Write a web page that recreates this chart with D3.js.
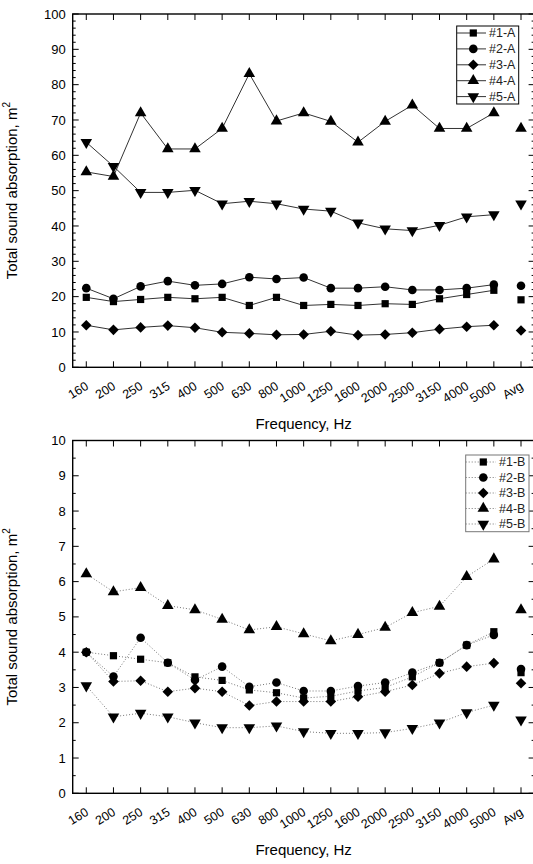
<!DOCTYPE html>
<html>
<head>
<meta charset="utf-8">
<script src="https://cdn.jsdelivr.net/npm/d3@7"></script>
<style>
  body { margin: 0; background: #fff; }
  svg { display: block; font-family: "Liberation Sans", Arial, sans-serif; }
</style>
</head>
<body>
<svg id="chart" width="533" height="864"></svg>
<script>
// frequency bands, last one is the average (not joined to the line)
const categories = ['160', '200', '250', '315', '400', '500', '630', '800', '1000',
  '1250', '1600', '2000', '2500', '3150', '4000', '5000', 'Avg'];

// configuration A, total sound absorption in m2
const seriesA1 = [19.8, 18.6, 19.2, 19.8, 19.4, 19.8, 17.5, 19.8, 17.5, 17.8, 17.5, 18.0, 17.8, 19.4, 20.6, 21.8, 19.1];
const seriesA2 = [22.4, 19.4, 22.9, 24.4, 23.2, 23.6, 25.5, 25.0, 25.4, 22.4, 22.4, 22.8, 21.9, 21.9, 22.4, 23.4, 23.1];
const seriesA3 = [11.9, 10.6, 11.3, 11.8, 11.2, 9.9, 9.6, 9.2, 9.3, 10.2, 9.1, 9.3, 9.8, 10.8, 11.5, 11.9, 10.4];
const seriesA4 = [55.3, 54.0, 72.0, 61.8, 61.8, 67.6, 83.1, 69.7, 72.0, 69.6, 63.7, 69.6, 74.2, 67.6, 67.6, 72.0, 67.6];
const seriesA5 = [63.7, 56.9, 49.5, 49.5, 50.1, 46.3, 47.0, 46.3, 44.8, 44.2, 40.9, 39.2, 38.7, 40.2, 42.6, 43.2, 46.3];

// configuration B
const seriesB1 = [4.0, 3.9, 3.8, 3.7, 3.3, 3.2, 2.93, 2.85, 2.7, 2.75, 2.9, 3.0, 3.3, 3.7, 4.2, 4.58, 3.42];
const seriesB2 = [4.0, 3.31, 4.41, 3.7, 3.21, 3.59, 3.02, 3.14, 2.9, 2.9, 3.04, 3.14, 3.42, 3.7, 4.2, 4.49, 3.52];
const seriesB3 = [4.0, 3.17, 3.19, 2.88, 2.98, 2.88, 2.49, 2.6, 2.6, 2.6, 2.74, 2.88, 3.07, 3.4, 3.59, 3.69, 3.12];
const seriesB4 = [6.22, 5.71, 5.83, 5.32, 5.2, 4.93, 4.63, 4.72, 4.52, 4.32, 4.5, 4.7, 5.12, 5.3, 6.14, 6.64, 5.2];
const seriesB5 = [3.05, 2.17, 2.27, 2.17, 2.0, 1.86, 1.86, 1.91, 1.75, 1.7, 1.7, 1.72, 1.84, 2.0, 2.29, 2.5, 2.08];

const namesA = ['#1-A', '#2-A', '#3-A', '#4-A', '#5-A'];
const namesB = ['#1-B', '#2-B', '#3-B', '#4-B', '#5-B'];
const markers = ['square', 'circle', 'diamond', 'up', 'down'];

const yTicksA = [0, 10, 20, 30, 40, 50, 60, 70, 80, 90, 100];
const yTicksB = [0, 1, 2, 3, 4, 5, 6, 7, 8, 9, 10];

const svg = d3.select('#chart');
const left = 72.7;
const right = 534.6;

const x = d3.scalePoint()
  .domain(categories)
  .range([left, right])
  .padding(0.5);

const symbolPath = (kind) => {
  if (kind === 'square') return d3.symbol(d3.symbolSquare, 52)();
  if (kind === 'circle') return d3.symbol(d3.symbolCircle, 58)();
  if (kind === 'diamond') return d3.symbol(d3.symbolSquare, 56)();
  return d3.symbol(d3.symbolTriangle, 58)();
};
const symbolRotate = (kind) => {
  if (kind === 'diamond') return 45;
  if (kind === 'down') return 180;
  return 0;
};

function drawPanel(opts) {
  const g = svg.append('g');
  const y = d3.scaleLinear().domain(opts.domain).range([opts.bottom, opts.top]);

  // series lines (first 16 bands only) and markers
  opts.series.forEach((vals, i) => {
    const pts = vals.slice(0, categories.length - 1).map((v, j) => [x(categories[j]), y(v)]);
    g.append('path')
      .attr('d', d3.line()(pts))
      .attr('fill', 'none')
      .attr('stroke', opts.lineColor)
      .attr('stroke-width', 1)
      .attr('stroke-dasharray', opts.dash);
  });
  opts.series.forEach((vals, i) => {
    g.selectAll(null)
      .data(vals)
      .enter()
      .append('path')
      .attr('d', symbolPath(markers[i]))
      .attr('transform', (v, j) => `translate(${x(categories[j])},${y(v)}) rotate(${symbolRotate(markers[i])})`)
      .attr('fill', '#000');
  });

  // frame
  g.append('rect')
    .attr('x', left).attr('y', opts.top)
    .attr('width', right - left).attr('height', opts.bottom - opts.top)
    .attr('fill', 'none').attr('stroke', '#000').attr('stroke-width', 1.4);

  // y ticks, major and minor, on both sides pointing in
  const minor = d3.range(opts.domain[0], opts.domain[1] + 1e-9, opts.minorStep);
  minor.forEach(v => {
    const isMajor = opts.yTicks.some(t => Math.abs(t - v) < 1e-6);
    const len = isMajor ? 6 : 3;
    g.append('line').attr('x1', left).attr('x2', left + len)
      .attr('y1', y(v)).attr('y2', y(v)).attr('stroke', '#000');
    g.append('line').attr('x1', right).attr('x2', right - len)
      .attr('y1', y(v)).attr('y2', y(v)).attr('stroke', '#000');
  });
  g.selectAll(null)
    .data(opts.yTicks)
    .enter()
    .append('text')
    .attr('x', left - 7)
    .attr('y', d => y(d))
    .attr('dy', '0.35em')
    .attr('text-anchor', 'end')
    .attr('font-size', 13)
    .text(d => d);

  // x ticks top and bottom pointing in
  categories.forEach(c => {
    g.append('line').attr('x1', x(c)).attr('x2', x(c))
      .attr('y1', opts.bottom).attr('y2', opts.bottom - 6).attr('stroke', '#000');
    g.append('line').attr('x1', x(c)).attr('x2', x(c))
      .attr('y1', opts.top).attr('y2', opts.top + 6).attr('stroke', '#000');
  });
  g.selectAll(null)
    .data(categories)
    .enter()
    .append('text')
    .attr('transform', d => `translate(${x(d) + 3},${opts.bottom + 21}) rotate(-32)`)
    .attr('text-anchor', 'end')
    .attr('font-size', 12.5)
    .text(d => d);

  // axis titles
  g.append('text')
    .attr('x', (left + right) / 2)
    .attr('y', opts.bottom + 62)
    .attr('text-anchor', 'middle')
    .attr('font-size', 15)
    .text('Frequency, Hz');
  const yt = g.append('text')
    .attr('transform', `translate(17,${(opts.top + opts.bottom) / 2}) rotate(-90)`)
    .attr('text-anchor', 'middle')
    .attr('font-size', 15);
  yt.append('tspan').text('Total sound absorption, m');
  yt.append('tspan').attr('font-size', 10).attr('dy', -7).text('2');

  // legend
  const lg = g.append('g');
  lg.append('rect')
    .attr('x', opts.legend.x).attr('y', opts.legend.y)
    .attr('width', opts.legend.w).attr('height', opts.legend.h)
    .attr('fill', '#fff').attr('stroke', opts.legend.border).attr('stroke-width', 1);
  opts.names.forEach((n, i) => {
    const ry = opts.legend.y + 7 + i * opts.legend.step;
    lg.append('line')
      .attr('x1', opts.legend.x).attr('x2', opts.legend.textX - 3)
      .attr('y1', ry).attr('y2', ry)
      .attr('stroke', opts.lineColor).attr('stroke-dasharray', opts.dash);
    lg.append('path')
      .attr('d', symbolPath(markers[i]))
      .attr('transform', `translate(${opts.legend.markX},${ry}) rotate(${symbolRotate(markers[i])})`)
      .attr('fill', '#000');
    lg.append('text')
      .attr('x', opts.legend.textX).attr('y', ry).attr('dy', '0.35em')
      .attr('font-size', 12.5).attr('fill', '#222')
      .text(n);
  });
}

drawPanel({
  top: 14, bottom: 367.3, domain: [0, 100], yTicks: yTicksA, minorStep: 2,
  series: [seriesA1, seriesA2, seriesA3, seriesA4, seriesA5], names: namesA,
  lineColor: '#333', dash: null,
  legend: { x: 456.7, y: 26, w: 62, h: 78, step: 15.9, markX: 473.3, textX: 489, border: '#000' }
});

drawPanel({
  top: 440.5, bottom: 793.3, domain: [0, 10], yTicks: yTicksB, minorStep: 0.5,
  series: [seriesB1, seriesB2, seriesB3, seriesB4, seriesB5], names: namesB,
  lineColor: '#777', dash: '1,2',
  legend: { x: 465.7, y: 455, w: 63.3, h: 76.7, step: 15.5, markX: 483.3, textX: 499, border: '#777' }
});
</script>
</body>
</html>
